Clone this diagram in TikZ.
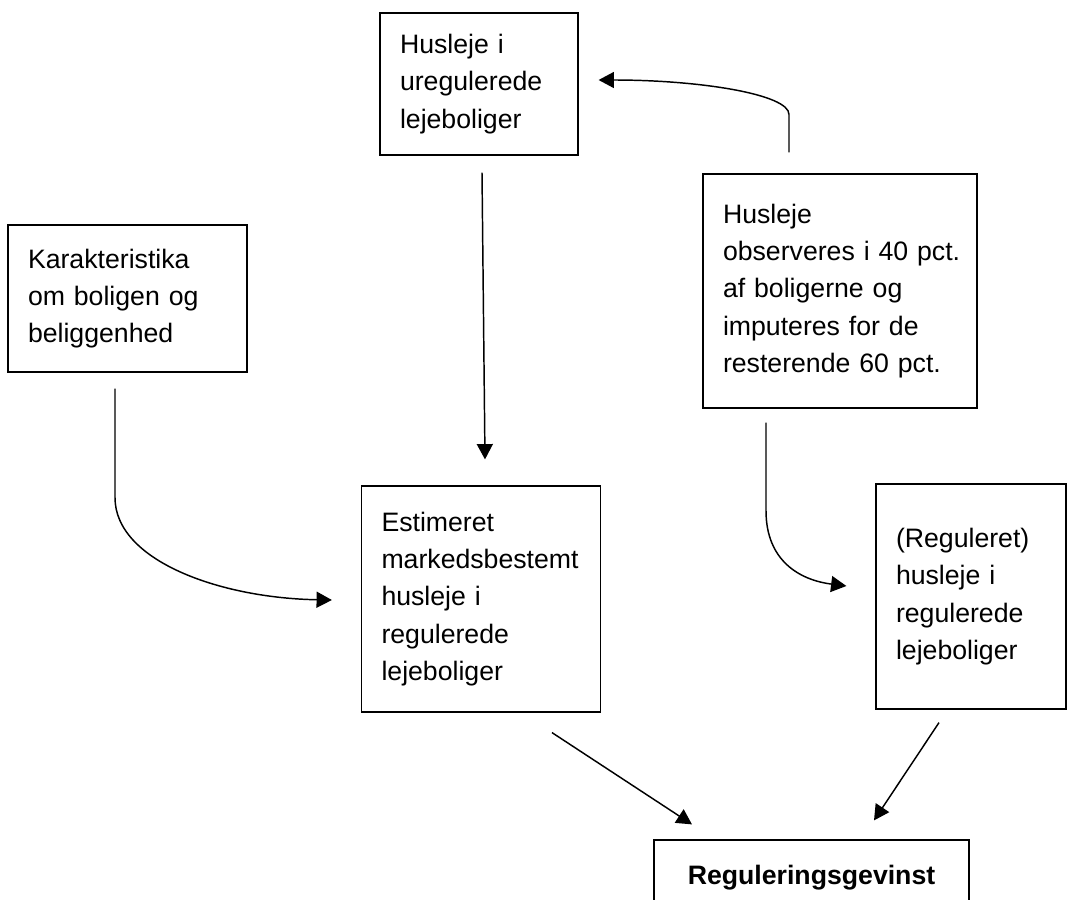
\documentclass[tikz,border=0pt]{standalone}
\usepackage{fontspec}
\setmainfont{Liberation Sans}
\usetikzlibrary{arrows.meta}

\begin{document}
\begin{tikzpicture}[x=0.75pt,y=-0.75pt,>={Triangle[length=11.5pt,width=12pt]},
  every node/.style={font=\fontsize{20}{28}\selectfont},
  box/.style={draw,line width=0.9pt,inner xsep=15pt,align=left},
  flow/.style={->,line width=1.1pt}]
\useasboundingbox (0,0) rectangle (1068,900);
\node (ureg) [box,text width=118.5pt,minimum height=106.5pt] at (479,84) {Husleje i\\uregulerede\\lejeboliger};
\node (kar) [box,text width=149.25pt,minimum height=110.25pt] at (127.5,298.5) {Karakteristika\\om boligen og\\beliggenhed};
\node (obs) [box,text width=175.5pt,minimum height=175.5pt] at (840,291) {Husleje\\observeres~i~40~pct.\\af boligerne og\\imputeres for de\\resterende 60 pct.};
\node (est) [box,text width=149.25pt,minimum height=169.5pt] at (481,599) {Estimeret\\markedsbestemt\\husleje i\\regulerede\\lejeboliger};
\node (reg) [box,text width=112.5pt,minimum height=168.75pt] at (971,596.5) {(Reguleret)\\husleje i\\regulerede\\lejeboliger};
\node (gev) [box,align=center,font=\fontsize{20}{28}\selectfont\bfseries,minimum width=236.25pt,minimum height=56.25pt] at (811.5,877.5) {Reguleringsgevinst};
\draw[flow] ([shift={(-51,-21)}]obs.north) -- ([shift={(-51,-59)}]obs.north)
  .. controls ([shift={(-51,-79)}]obs.north) and ([shift={(122,-4)}]ureg.east) .. ([shift={(20,-4)}]ureg.east);
\draw[flow] ([shift={(3,17)}]ureg.south) -- ([shift={(4,-26)}]est.north);
\draw[flow] ([shift={(-12.5,16)}]kar.south) -- ([shift={(-12.5,125)}]kar.south)
  .. controls ([shift={(-12.5,188)}]kar.south) and ([shift={(-141,-1)}]est.west) .. ([shift={(-29,1)}]est.west);
\draw[flow] ([shift={(-74,14)}]obs.south) -- ([shift={(-74,102)}]obs.south)
  .. controls ([shift={(-74,152)}]obs.south) and ([shift={(-76,-16.5)}]reg.west) .. ([shift={(-29,-10.5)}]reg.west);
\draw[flow] ([shift={(71,20)}]est.south) -- ([shift={(-119.5,-15)}]gev.north);
\draw[flow] ([shift={(-32,13)}]reg.south) -- ([shift={(62.5,-19)}]gev.north);
\end{tikzpicture}
\end{document}
